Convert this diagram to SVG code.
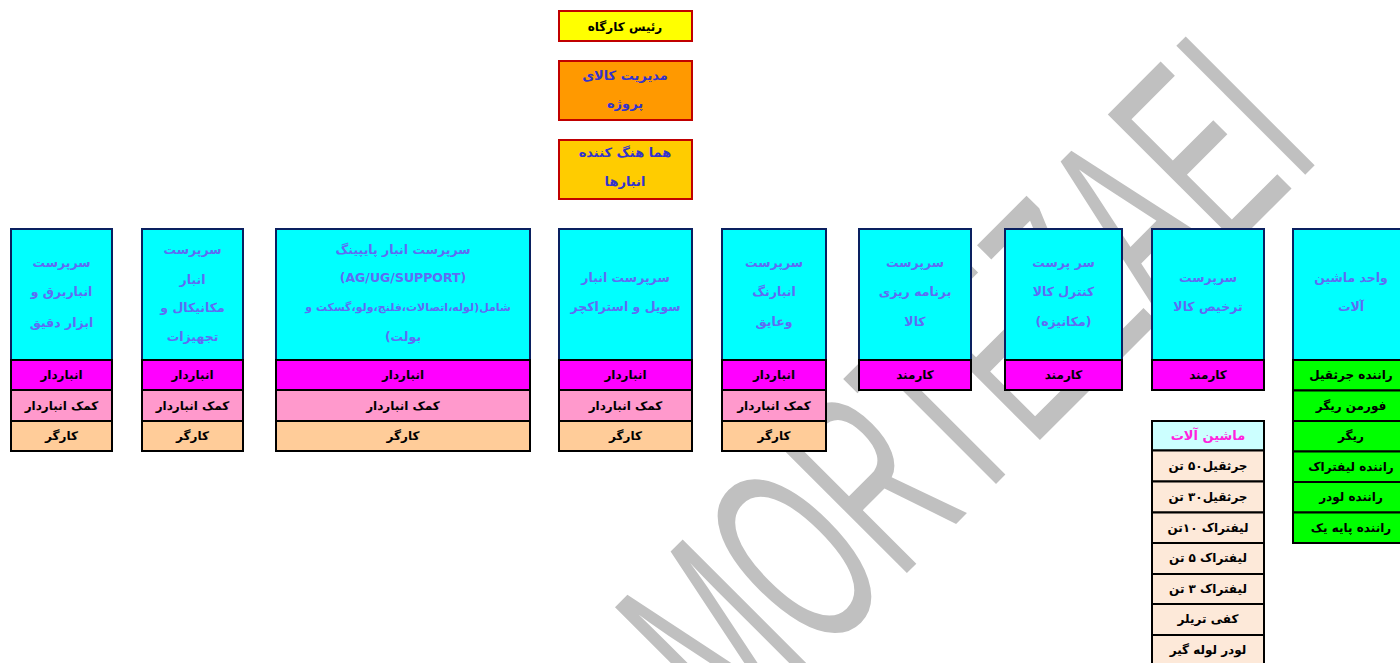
<svg xmlns="http://www.w3.org/2000/svg" width="1400" height="663" viewBox="0 0 1400 663">
<style>
.top{stroke:#c00000;stroke-width:2}
.hdr{fill:#00ffff;stroke:#0a2060;stroke-width:2}
.r{stroke:#000;stroke-width:2}
.mag{fill:#ff00ff}
.pink{fill:#ff99cc}
.peach{fill:#ffcc99}
.grn{fill:#00ff00}
.lt{fill:#fde9d9}
.t{font-family:"DejaVu Sans","Noto Sans",sans-serif;font-weight:bold;font-size:12px;text-anchor:middle;direction:rtl;fill:#000}
.h{font-size:12.5px;fill:#5f6cf3}
.b{fill:#3333cc;font-size:13px}
.wm{font-family:"Liberation Sans",Arial,sans-serif;font-size:265px;fill:#c0c0c0;text-anchor:end}
</style>
<rect width="1400" height="663" fill="#ffffff"/>
<g id="watermark">
<text class="wm" transform="translate(1324,156) rotate(-45) scale(0.54,1)" x="0" y="0">MORTEZAEI</text>
</g>
<g id="connectors"></g>

<g id="n-head">
<rect class="top" x="559" y="11" width="133" height="30" fill="#ffff00"/>
<text class="t" x="625" y="31">رئیس کارگاه</text>
</g>
<g id="n-manager">
<rect class="top" x="559" y="61" width="133" height="59" fill="#ff9900"/>
<text class="t b" x="625" y="80">مدیریت کالای</text>
<text class="t b" x="625" y="108">پروژه</text>
</g>
<g id="n-coord">
<rect class="top" x="559" y="140" width="133" height="59" fill="#ffcc00"/>
<text class="t b" x="625" y="157">هما هنگ کننده</text>
<text class="t b" x="625" y="186">انبارها</text>
</g>

<g id="col1">
<rect class="hdr" x="11" y="229" width="101" height="131"/>
<text class="t h" x="61.5" y="267">سرپرست</text>
<text class="t h" x="61.5" y="296">انباربرق و</text>
<text class="t h" x="61.5" y="327">ابزار دقیق</text>
<rect class="r mag" x="11" y="360" width="101" height="30"/>
<text class="t" x="61.5" y="379">انباردار</text>
<rect class="r pink" x="11" y="390" width="101" height="31"/>
<text class="t" x="61.5" y="410">کمک انباردار</text>
<rect class="r peach" x="11" y="421" width="101" height="30"/>
<text class="t" x="61.5" y="440">کارگر</text>
</g>

<g id="col2">
<rect class="hdr" x="142" y="229" width="101" height="131"/>
<text class="t h" x="192.5" y="254">سرپرست</text>
<text class="t h" x="192.5" y="284">انبار</text>
<text class="t h" x="192.5" y="312">مکانیکال و</text>
<text class="t h" x="192.5" y="341">تجهیزات</text>
<rect class="r mag" x="142" y="360" width="101" height="30"/>
<text class="t" x="192.5" y="379">انباردار</text>
<rect class="r pink" x="142" y="390" width="101" height="31"/>
<text class="t" x="192.5" y="410">کمک انباردار</text>
<rect class="r peach" x="142" y="421" width="101" height="30"/>
<text class="t" x="192.5" y="440">کارگر</text>
</g>

<g id="col3">
<rect class="hdr" x="276" y="229" width="254" height="131"/>
<text class="t h" x="403" y="254">سرپرست انبار پایپینگ</text>
<text class="t h" x="403" y="282">(AG/UG/SUPPORT)</text>
<text class="t h" x="408" y="311" style="font-size:11px">شامل(لوله،اتصالات،فلنج،ولو،گسکت و</text>
<text class="t h" x="403" y="341">بولت)</text>
<rect class="r mag" x="276" y="360" width="254" height="30"/>
<text class="t" x="403" y="379">انباردار</text>
<rect class="r pink" x="276" y="390" width="254" height="31"/>
<text class="t" x="403" y="410">کمک انباردار</text>
<rect class="r peach" x="276" y="421" width="254" height="30"/>
<text class="t" x="403" y="440">کارگر</text>
</g>

<g id="col4">
<rect class="hdr" x="559" y="229" width="133" height="131"/>
<text class="t h" x="625.5" y="282">سرپرست انبار</text>
<text class="t h" x="625.5" y="311">سویل  و استراکچر</text>
<rect class="r mag" x="559" y="360" width="133" height="30"/>
<text class="t" x="625.5" y="379">انباردار</text>
<rect class="r pink" x="559" y="390" width="133" height="31"/>
<text class="t" x="625.5" y="410">کمک انباردار</text>
<rect class="r peach" x="559" y="421" width="133" height="30"/>
<text class="t" x="625.5" y="440">کارگر</text>
</g>

<g id="col5">
<rect class="hdr" x="722" y="229" width="104" height="131"/>
<text class="t h" x="774" y="267">سرپرست</text>
<text class="t h" x="774" y="296">انبارنگ</text>
<text class="t h" x="774" y="326">وعایق</text>
<rect class="r mag" x="722" y="360" width="104" height="30"/>
<text class="t" x="774" y="379">انباردار</text>
<rect class="r pink" x="722" y="390" width="104" height="31"/>
<text class="t" x="774" y="410">کمک انباردار</text>
<rect class="r peach" x="722" y="421" width="104" height="30"/>
<text class="t" x="774" y="440">کارگر</text>
</g>

<g id="col6">
<rect class="hdr" x="859" y="229" width="112" height="131"/>
<text class="t h" x="915" y="267">سرپرست</text>
<text class="t h" x="915" y="296">برنامه ریزی</text>
<text class="t h" x="915" y="326">کالا</text>
<rect class="r mag" x="859" y="360" width="112" height="30"/>
<text class="t" x="915" y="379">کارمند</text>
</g>

<g id="col7">
<rect class="hdr" x="1005" y="229" width="117" height="131"/>
<text class="t h" x="1063.5" y="267">سر پرست</text>
<text class="t h" x="1063.5" y="296">کنترل کالا</text>
<text class="t h" x="1063.5" y="326">(مکانیزه)</text>
<rect class="r mag" x="1005" y="360" width="117" height="30"/>
<text class="t" x="1063.5" y="379">کارمند</text>
</g>

<g id="col8">
<rect class="hdr" x="1152" y="229" width="112" height="131"/>
<text class="t h" x="1208" y="282">سرپرست</text>
<text class="t h" x="1208" y="311">ترخیص کالا</text>
<rect class="r mag" x="1152" y="360" width="112" height="30"/>
<text class="t" x="1208" y="379">کارمند</text>
</g>

<g id="col9">
<rect class="hdr" x="1293" y="229" width="116" height="131"/>
<text class="t h" x="1351" y="282">واحد ماشین</text>
<text class="t h" x="1351" y="311">آلات</text>
<rect class="r grn" x="1293" y="360" width="116" height="30.5"/>
<text class="t" x="1351" y="379">راننده جرثقیل</text>
<rect class="r grn" x="1293" y="390.5" width="116" height="30.5"/>
<text class="t" x="1351" y="410">فورمن ریگر</text>
<rect class="r grn" x="1293" y="421" width="116" height="30.5"/>
<text class="t" x="1351" y="440">ریگر</text>
<rect class="r grn" x="1293" y="451.5" width="116" height="30.5"/>
<text class="t" x="1351" y="471">راننده لیفتراک</text>
<rect class="r grn" x="1293" y="482" width="116" height="30.5"/>
<text class="t" x="1351" y="501">راننده لودر</text>
<rect class="r grn" x="1293" y="512.5" width="116" height="30.5"/>
<text class="t" x="1351" y="532">راننده پایه یک</text>
</g>

<g id="machines">
<rect class="r" x="1152" y="421" width="112" height="29.5" fill="#ccffff"/>
<text class="t" x="1208" y="440" style="fill:#ff22dd;font-size:13px">ماشین آلات</text>
<rect class="r lt" x="1152" y="450.5" width="112" height="31"/>
<text class="t" x="1208" y="470">جرثقیل۵۰ تن</text>
<rect class="r lt" x="1152" y="481.5" width="112" height="31"/>
<text class="t" x="1208" y="501">جرثقیل۳۰ تن</text>
<rect class="r lt" x="1152" y="512.5" width="112" height="30.5"/>
<text class="t" x="1208" y="532">لیفتراک ۱۰تن</text>
<rect class="r lt" x="1152" y="543" width="112" height="31"/>
<text class="t" x="1208" y="562">لیفتراک ۵ تن</text>
<rect class="r lt" x="1152" y="574" width="112" height="30"/>
<text class="t" x="1208" y="593">لیفتراک ۳ تن</text>
<rect class="r lt" x="1152" y="604" width="112" height="31"/>
<text class="t" x="1208" y="623">کفی تریلر</text>
<rect class="r lt" x="1152" y="635" width="112" height="30"/>
<text class="t" x="1208" y="654">لودر لوله گیر</text>
</g>
</svg>
